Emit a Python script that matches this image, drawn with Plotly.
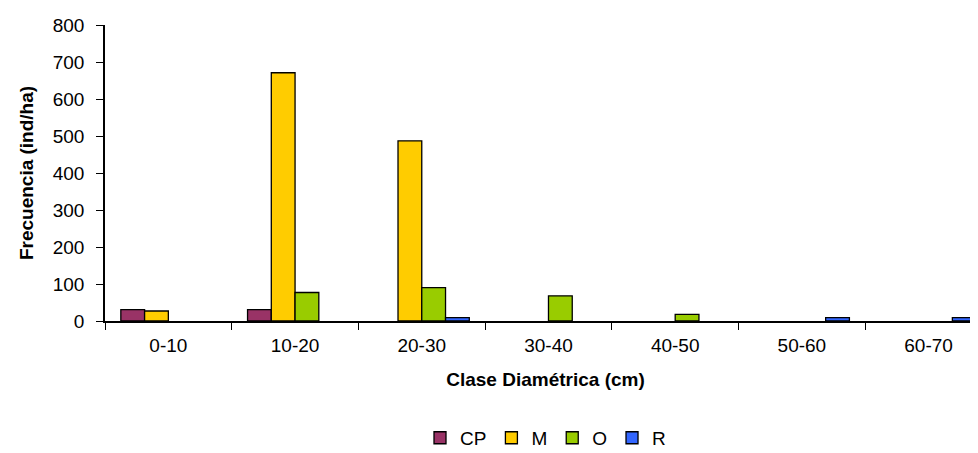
import plotly.graph_objects as go

categories = ["0-10", "10-20", "20-30", "30-40", "40-50", "50-60", "60-70"]
cp = [31, 31, 0, 0, 0, 0, 0]
m = [27, 671, 487, 0, 0, 0, 0]
o = [0, 77, 90, 68, 18, 0, 0]
r = [0, 0, 9, 0, 0, 9, 9]

series = [("CP", cp, "#993366"), ("M", m, "#FFCC00"), ("O", o, "#99CC00"), ("R", r, "#3366FF")]

fig = go.Figure()
for name, vals, col in series:
    shown = [v if v else None for v in vals]
    fig.add_trace(go.Bar(x=categories, y=shown, name=name,
                         marker=dict(color=col, line=dict(color="black", width=1.3))))

font = "Liberation Sans, Arial, sans-serif"
fig.update_layout(
    width=978, height=453,
    margin=dict(l=97, r=0, t=17, b=140, autoexpand=False),
    plot_bgcolor="white", paper_bgcolor="white",
    barmode="group", bargap=0.25, bargroupgap=0,
    font=dict(family=font, size=19, color="black"),
    showlegend=True,
    legend=dict(orientation="h", x=0.5, xanchor="center", y=-0.395, yanchor="middle",
                font=dict(size=19), itemwidth=30, tracegroupgap=0,
                bgcolor="rgba(0,0,0,0)"),
    xaxis=dict(range=[-0.5, 6.453], showline=True, linecolor="black", linewidth=1.5, ticks="outside",
               tickson="boundaries", ticklen=7, tickcolor="black", tickangle=0, ticklabelstandoff=6,
               tickfont=dict(size=19),
               title=dict(text="<b>Clase Diamétrica (cm)</b>", font=dict(size=19), standoff=18)),
    yaxis=dict(range=[0, 800], dtick=100, showline=True, linecolor="black", linewidth=1.5, ticks="outside",
               ticklen=7, tickcolor="black", showgrid=False, zeroline=False, ticklabelstandoff=8,
               tickfont=dict(size=19),
               title=dict(text="<b>Frecuencia (ind/ha)</b>", font=dict(size=19), standoff=14)),
)
fig.write_html("out.html")
